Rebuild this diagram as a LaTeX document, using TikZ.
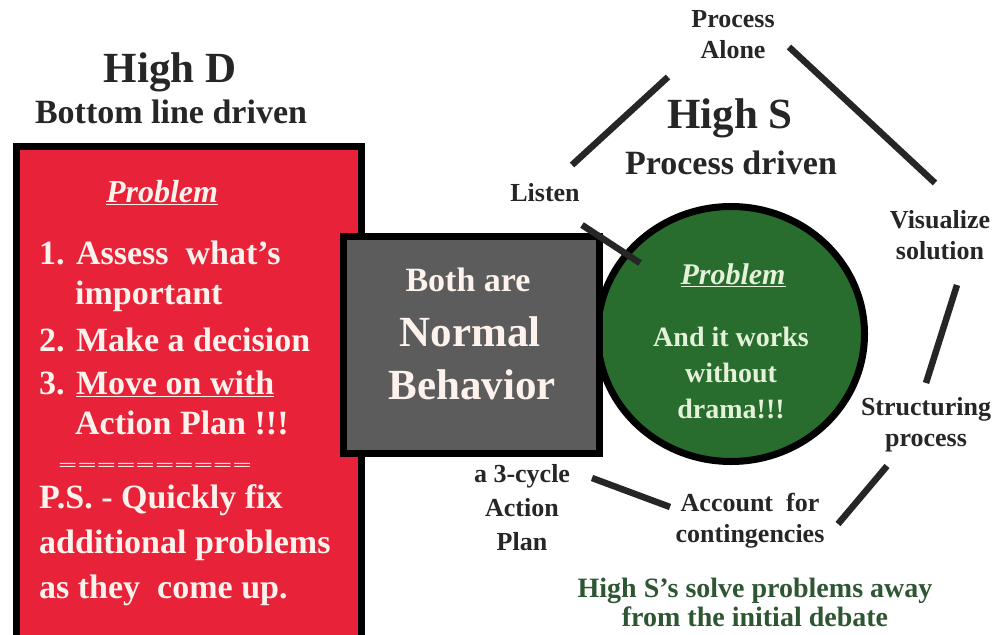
\documentclass[tikz,border=0pt]{standalone}
\usepackage{fontspec}
\setmainfont{Liberation Serif}
\usepackage{tikz}
\usetikzlibrary{shapes.geometric}
\usetikzlibrary{positioning}

\definecolor{ink}{RGB}{38,38,38}
\definecolor{dred}{RGB}{232,34,56}
\definecolor{redtxt}{RGB}{253,242,236}
\definecolor{dgray}{RGB}{92,92,92}
\definecolor{dgreen}{RGB}{40,108,46}
\definecolor{greentxt}{RGB}{228,242,218}
\definecolor{sgreen}{RGB}{46,86,50}

\begin{document}
\begin{tikzpicture}[x=1pt, y=-1pt, inner sep=0pt,
  box/.style={draw=black, line width=7pt, inner sep=0pt},
  link/.style={draw=ink, line width=6.5pt},
  big/.style={font=\bfseries\fontsize{43}{48}\selectfont},
  mid/.style={font=\bfseries\fontsize{34}{40}\selectfont},
  tag/.style={font=\bfseries\fontsize{26}{31}\selectfont, text=ink, align=center},
  item/.style={mid, text=redtxt, anchor=base west}]
\clip (0,0) rectangle (995,634);

% High D side
\node[box, fill=dred, minimum width=345, minimum height=560] (dbox) at (189,426) {};
\node[big, text=ink] (highd) at (170,72) {High D};
\node[mid, text=ink] (bottomline) at (171,112) {Bottom line driven};
\node[font=\bfseries\itshape\fontsize{32}{38}\selectfont, text=redtxt] (dprob) at (162,193) {\underline{Problem}};
\node[item] (d1) at (39,264) {1. Assess\ \ what's};
\node[item] (d1b) at (75,304) {important};
\node[item] (d2) at (39,351) {2. Make a decision};
\node[item] (d3) at (39,394) {3. \underline{Move on with}};
\node[item] (d3b) at (75,434) {Action Plan !!!};
\node[mid, text=redtxt] (dline) at (155,467) {\scalebox{1}[0.45]{==========}};
\node[item] (ps1) at (39,508) {P.S. - Quickly fix};
\node[item] (ps2) at (39,553) {additional problems};
\node[item] (ps3) at (39,598) {as they\ \ come up.};

% High S side
\node[ellipse, box, fill=dgreen, minimum width=267, minimum height=255] (scirc) at (731,334) {};
\node[box, fill=dgray, minimum width=256, minimum height=217] (norm) at (471.5,345) {};
\node[mid, text=redtxt] (both) at (468,280) {Both are};
\node[big, text=redtxt] (normal) at (470,332) {Normal};
\node[big, text=redtxt] (behav) at (472,385) {Behavior};

\node[big, text=ink] (highs) at (730,118) {High S};
\node[mid, text=ink] (procdriven) at (731,163) {Process driven};
\node[font=\bfseries\itshape\fontsize{30}{36}\selectfont, text=greentxt] (sprob) at (733,275) {\underline{Problem}};
\node[font=\bfseries\fontsize{28}{36}\selectfont, text=greentxt, align=center] (works) at (731,373) {And it works\\without\\drama!!!};

\node[tag] (alone) at (733,35) {Process\\Alone};
\node[tag] (listen) at (545,193) {Listen};
\node[tag] (visual) at (940,235) {Visualize\\solution};
\node[tag] (struct) at (926,425) {Structuring\\process};
\node[tag] (account) at (750,521) {Account\ \ for\\contingencies};
\node[tag, font=\bfseries\fontsize{26}{34}\selectfont] (cycle) at (522,508) {a 3-cycle\\Action\\Plan};

\node[font=\bfseries\fontsize{28}{29}\selectfont, text=sgreen, align=center] (away) at (755,602) {High S's solve problems away\\from the initial debate};

% cycle of steps
\draw[link] ([shift={(27,-28)}]listen.center) -- ([shift={(-65,42)}]alone.center);
\draw[link] ([shift={(56,12)}]alone.center) -- ([shift={(-5,-52)}]visual.center);
\draw[link] ([shift={(17,50)}]visual.center) -- ([shift={(0,-42)}]struct.center);
\draw[link] ([shift={(-39,41)}]struct.center) -- ([shift={(88,3)}]account.center);
\draw[link] ([shift={(-80,-14)}]account.center) -- ([shift={(70,-30)}]cycle.center);
\draw[link] ([shift={(37,32)}]listen.center) -- ([shift={(-91,-71)}]scirc.center);
\end{tikzpicture}
\end{document}
